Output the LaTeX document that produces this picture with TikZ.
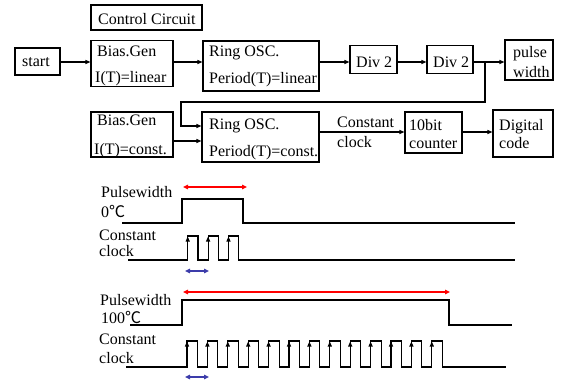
\documentclass[tikz,border=0pt]{standalone}
\usepackage{fontspec}
\setmainfont{Liberation Serif}
\newfontfamily\cjk{Noto Sans CJK SC}
\usetikzlibrary{arrows.meta}
\definecolor{darkblue}{RGB}{60,60,170}
\begin{document}
\begin{tikzpicture}[x=1pt,y=-1pt,
  font=\fontsize{16}{18}\selectfont,
  box/.style={draw,line width=1.1pt,inner sep=0pt},
  lbl/.style={anchor=base west,inner sep=0pt},
  tip/.style={-{Triangle[length=5pt,width=4pt]}},
  conn/.style={line width=1.1pt,tip},
  sig/.style={line width=1.1pt},
  dbl/.style={line width=1.4pt,{Triangle[length=5pt,width=4.5pt]}-{Triangle[length=5pt,width=4.5pt]}}]
\useasboundingbox (0,0) rectangle (562,380);
% boxes
\node[box,minimum width=111pt,minimum height=25pt] (ctrl) at (146.5,17.5) {};
\node[box,minimum width=45pt,minimum height=27pt] (start) at (37.5,61.5) {};
\node[box,minimum width=82pt,minimum height=46pt] (bias1) at (132,63.5) {};
\node[box,minimum width=116pt,minimum height=50pt] (ring1) at (261,66) {};
\node[box,minimum width=47pt,minimum height=28pt] (div1) at (373.5,59.5) {};
\node[box,minimum width=46pt,minimum height=28pt] (div2) at (450,59.5) {};
\node[box,minimum width=48pt,minimum height=40pt] (pw) at (529,60) {};
\node[box,minimum width=82pt,minimum height=45pt] (bias2) at (132,134.5) {};
\node[box,minimum width=117pt,minimum height=50pt] (ring2) at (260.5,137) {};
\node[box,minimum width=57pt,minimum height=41pt] (cnt) at (433.5,132.5) {};
\node[box,minimum width=60pt,minimum height=47pt] (dig) at (523,133.5) {};
% box texts
\node[lbl] (tctrl) at (98,24) {Control Circuit};
\node[lbl] (tstart) at (22,66) {start};
\node[lbl] (tb1a) at (97,56) {Bias.Gen};
\node[lbl] (tb1b) at (95,82) {I(T)=linear};
\node[lbl] (tr1a) at (209,56) {Ring OSC.};
\node[lbl] (tr1b) at (209,83) {Period(T)=linear};
\node[lbl] (td1) at (356,67) {Div 2};
\node[lbl] (td2) at (433,67) {Div 2};
\node[lbl] (tpwa) at (513,57) {pulse};
\node[lbl] (tpwb) at (513,77) {width};
\node[lbl] (tb2a) at (97,125) {Bias.Gen};
\node[lbl] (tb2b) at (94,154) {I(T)=const.};
\node[lbl] (tr2a) at (209,129) {Ring OSC.};
\node[lbl] (tr2b) at (209,156) {Period(T)=const.};
\node[lbl] (tcca) at (337,127) {Constant};
\node[lbl] (tccb) at (337,147) {clock};
\node[lbl] (tcnta) at (409,130) {10bit};
\node[lbl] (tcntb) at (409,148) {counter};
\node[lbl] (tdiga) at (499,130) {Digital};
\node[lbl] (tdigb) at (499,148) {code};
% connectors
\coordinate (row) at (0,62);
\draw[conn] (start.east |- row) -- (bias1.west |- row);
\draw[conn] (bias1.east |- row) -- (ring1.west |- row);
\draw[conn] (ring1.east |- row) -- (div1.west |- row);
\draw[conn] (div1.east |- row) -- (div2.west |- row);
\draw[conn] (div2.east |- row) -- (pw.west |- row);
\coordinate (j) at (485,62);
\coordinate (fb) at (181,102);
\draw[conn] (j) |- (fb) |- ([yshift=11pt]ring2.west);
\draw[conn] (bias2.east |- 0,141) -- (ring2.west |- 0,141);
\draw[conn] (ring2.east |- 0,132) -- (cnt.west |- 0,132);
\draw[conn] (cnt.east |- 0,132) -- (dig.west |- 0,132);
% timing 0C
\node[lbl] (p0a) at (101,197) {Pulsewidth};
\node[lbl] (p0b) at (101,217) {0{\cjk ℃}};
\node[lbl] (c0a) at (99,240) {Constant};
\node[lbl] (c0b) at (99,256) {clock};
\draw[sig] (122,223) -- (182,223) -- (182,199) -- (243,199) -- (243,223) -- (515,223);
\draw[sig] (128,260) \foreach \i in {0,1,2} { -- ({187.7+20.4*\i},260) -- ({187.7+20.4*\i},236) -- ({198+20.4*\i},236) -- ({198+20.4*\i},260)} -- (515,260);
\foreach \i in {0,1,2} \draw[sig,tip] ({187.7+20.4*\i},248) -- ({187.7+20.4*\i},236.5);
\draw[dbl,red] (183,187) -- (247,187);
\draw[dbl,darkblue] (185,271) -- (209,271);
% timing 100C
\node[lbl] (p1a) at (100,305) {Pulsewidth};
\node[lbl] (p1b) at (101,323) {100{\cjk ℃}};
\node[lbl] (c1a) at (99,344) {Constant};
\node[lbl] (c1b) at (99,363) {clock};
\draw[sig] (130,325) -- (182,325) -- (182,300) -- (449,300) -- (449,325) -- (512,325);
\draw[sig] (126,367) \foreach \i in {0,...,12} { -- ({187+20.4*\i},367) -- ({187+20.4*\i},341) -- ({197.5+20.4*\i},341) -- ({197.5+20.4*\i},367)} -- (506,367);
\foreach \i in {0,...,12} \draw[sig,tip] ({187+20.4*\i},354) -- ({187+20.4*\i},341.5);
\draw[dbl,red] (183,292) -- (450,292);
\draw[dbl,darkblue] (185,377) -- (209,377);
\end{tikzpicture}
\end{document}
